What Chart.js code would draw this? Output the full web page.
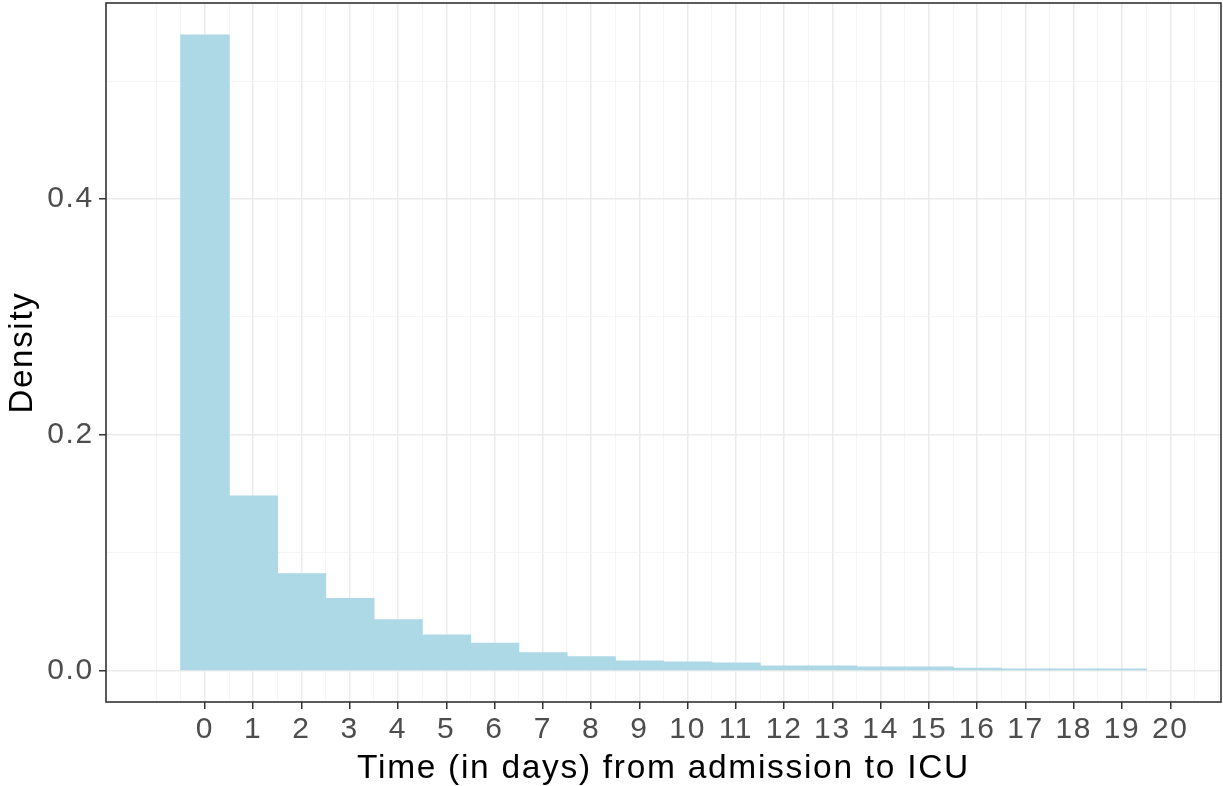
<!DOCTYPE html>
<html>
<head>
<meta charset="utf-8">
<script src="https://cdn.jsdelivr.net/npm/chart.js@4.4.1/dist/chart.umd.min.js"></script>
<style>
  html, body { margin: 0; padding: 0; background: #fff; }
  #wrap { width: 1223px; height: 786px; }
</style>
</head>
<body>
<div id="wrap"><canvas id="hist"></canvas></div>
<script>
// histogram bins (days since admission) and density per bin
var days = [0, 1, 2, 3, 4, 5, 6, 7, 8, 9, 10, 11, 12, 13, 14, 15, 16, 17, 18, 19];
var density = [0.539, 0.148, 0.082, 0.061, 0.043, 0.030, 0.023, 0.015, 0.0115, 0.008,
               0.0072, 0.0064, 0.0038, 0.0038, 0.0028, 0.003, 0.0019, 0.0013, 0.0013, 0.0013];

// axis breaks
var xMajor = [0, 1, 2, 3, 4, 5, 6, 7, 8, 9, 10, 11, 12, 13, 14, 15, 16, 17, 18, 19, 20];
var xMinor = [-1, -0.5, 0.5, 1.5, 2.5, 3.5, 4.5, 5.5, 6.5, 7.5, 8.5, 9.5, 10.5, 11.5, 12.5,
              13.5, 14.5, 15.5, 16.5, 17.5, 18.5, 19.5, 20.5, 21];
var yMajor = [0, 0.2, 0.4];
var yMinor = [0.1, 0.3, 0.5];

var points = days.map(function (d, i) { return { x: d, y: density[i] }; });

function isMajor(list, c) {
  if (!c || !c.tick) return false;
  var v = c.tick.value;
  return list.some(function (m) { return Math.abs(m - v) < 1e-9; });
}

// slightly wider tracking, like the original text
var tracking = {
  id: 'tracking',
  beforeUpdate: function (chart) { chart.ctx.letterSpacing = '1.7px'; },
  beforeDraw: function (chart) { chart.ctx.letterSpacing = '1.7px'; }
};

var panelBox = {
  id: 'panelBox',
  afterDraw: function (chart) {
    var a = chart.chartArea, c = chart.ctx;
    c.save();
    c.strokeStyle = '#333333';
    c.lineWidth = 1.6;
    c.strokeRect(a.left, a.top, a.right - a.left, a.bottom - a.top);
    c.restore();
  }
};

var ctx = document.getElementById("hist").getContext("2d");
var myChart = new Chart(ctx, {
  type: 'bar',
  data: {
    datasets: [{
      label: 'Density',
      data: points,
      backgroundColor: '#ADD8E6',
      borderWidth: 0,
      inflateAmount: 0.6,
      // the half-step grid ticks halve the ruler, so 2 gives one full day
      barPercentage: 2,
      categoryPercentage: 1
    }]
  },
  plugins: [tracking, panelBox],
  options: {
    responsive: true,
    maintainAspectRatio: false,
    animation: false,
    layout: { padding: { top: 3, right: 2, left: 0, bottom: 0 } },
    plugins: {
      legend: { display: false },
      tooltip: { enabled: false }
    },
    scales: {
      x: {
        type: 'linear',
        offset: false,
        min: -2.05,
        max: 21.05,
        afterBuildTicks: function (scale) {
          scale.ticks = xMinor.concat(xMajor).sort(function (a, b) { return a - b; })
            .map(function (v) { return { value: v }; });
        },
        afterFit: function (scale) {
          scale.height = 84;
          scale.paddingLeft = 0;
          scale.paddingRight = 0;
        },
        border: { display: false },
        grid: {
          offset: false,
          color: function (c) { return isMajor(xMajor, c) ? '#EBEBEB' : '#F2F2F2'; },
          lineWidth: function (c) { return isMajor(xMajor, c) ? 1.5 : 0.8; },
          tickColor: function (c) { return isMajor(xMajor, c) ? '#333333' : 'rgba(0,0,0,0)'; },
          tickWidth: 1.5,
          tickLength: 7
        },
        ticks: {
          autoSkip: false,
          maxRotation: 0,
          padding: 3,
          color: '#4D4D4D',
          font: { family: 'Liberation Sans', size: 30 },
          callback: function (v) {
            return xMajor.indexOf(v) >= 0 ? String(v) : '';
          }
        },
        title: {
          display: true,
          text: 'Time (in days) from admission to ICU',
          color: '#000000',
          font: { family: 'Liberation Sans', size: 33.5, lineHeight: 1.05 },
          padding: { top: 0, bottom: 0 }
        }
      },
      y: {
        min: -0.0267,
        max: 0.5662,
        afterBuildTicks: function (scale) {
          scale.ticks = yMajor.concat(yMinor).sort(function (a, b) { return a - b; })
            .map(function (v) { return { value: v }; });
        },
        afterFit: function (scale) {
          scale.width = 106;
          scale.paddingTop = 0;
          scale.paddingBottom = 0;
        },
        border: { display: false },
        grid: {
          color: function (c) { return isMajor(yMajor, c) ? '#EBEBEB' : '#F2F2F2'; },
          lineWidth: function (c) { return isMajor(yMajor, c) ? 1.5 : 0.8; },
          tickColor: function (c) { return isMajor(yMajor, c) ? '#333333' : 'rgba(0,0,0,0)'; },
          tickWidth: 1.5,
          tickLength: 7
        },
        ticks: {
          padding: 5,
          color: '#4D4D4D',
          font: { family: 'Liberation Sans', size: 30 },
          callback: function (v) {
            return yMajor.indexOf(v) >= 0 ? v.toFixed(1) : '';
          }
        },
        title: {
          display: true,
          text: 'Density',
          color: '#000000',
          font: { family: 'Liberation Sans', size: 33 },
          padding: { top: 3, bottom: 0 }
        }
      }
    }
  }
});
</script>
</body>
</html>
